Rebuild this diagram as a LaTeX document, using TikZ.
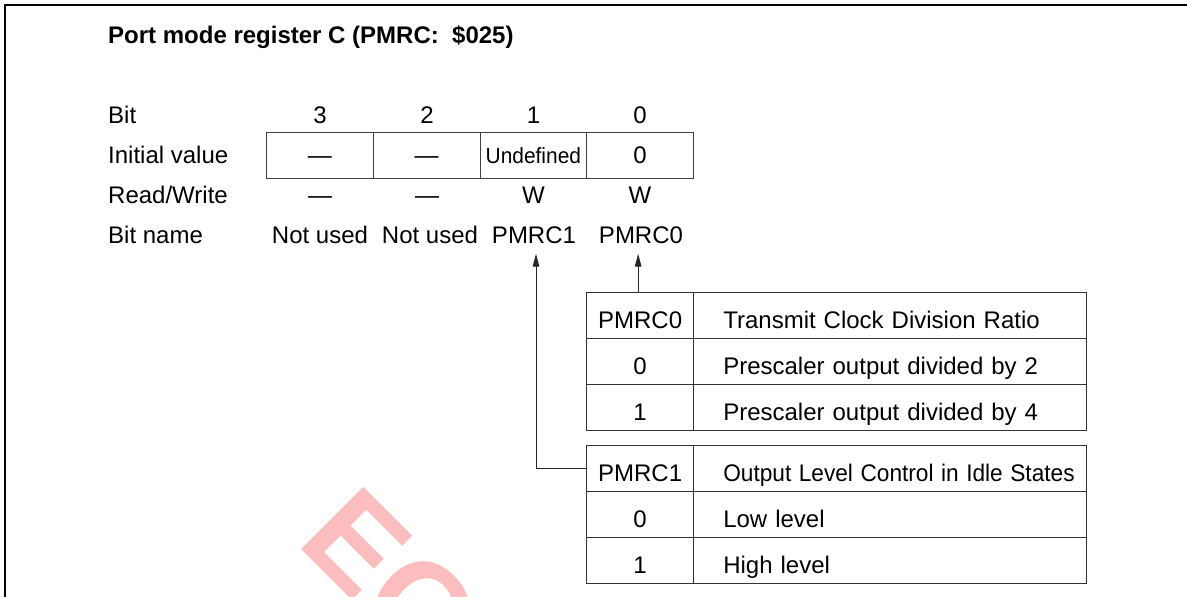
\documentclass[tikz,border=0pt]{standalone}
\usepackage{fontspec}
\setmainfont{Liberation Sans}
\usetikzlibrary{arrows.meta}
\definecolor{wm}{RGB}{251,189,189}
\newcommand\fs{\fontsize{24}{28}\selectfont}
\frenchspacing
\begin{document}
\begin{tikzpicture}[x=1pt,y=-1pt,
  every node/.style={font=\fs},
  lbl/.style={anchor=base, inner sep=0pt},
  rowlbl/.style={anchor=base west, inner sep=0pt},
  regcell/.style={draw=black!75, line width=1pt, inner sep=0pt, minimum width=106.75pt, minimum height=45.4pt, text height=16.6pt, text depth=0pt, anchor=north west},
  keycell/.style={draw=black!80, line width=1pt, inner sep=0pt, minimum width=107.3pt, minimum height=46.1pt, text height=26.4pt, text depth=0pt, anchor=north west},
  desccell/.style={keycell, minimum width=0pt, text width=334pt, inner xsep=29.5pt, align=left},
  conn/.style={draw=black!85, line width=1pt, -{Triangle[length=13pt,width=6.5pt]}},
  framel/.style={line width=1.7pt},
]
\useasboundingbox (0,0) rectangle (1187,597);
% watermark
\begin{scope}
\clip (0,0) rectangle (1187,597);
\node[rotate=-45, anchor=base west, inner sep=0pt, text=wm, font=\fontsize{128}{130}\selectfont\bfseries] (wmk) at (295.6,543.6) {EO};
\end{scope}
% frame
\draw[framel] (5.3,600) -- (5.3,5) -- (1190,5);
% title
\node[rowlbl, font=\fs\bfseries] (title) at (108,43.3) {Port mode register C (PMRC:\ \ \$025)};
% row labels
\node[rowlbl] (lbit) at (108,123.8) {Bit};
\node[rowlbl] (linit) at (108,163.3) {Initial value};
\node[rowlbl] (lrw) at (108,203.4) {Read/Write};
\node[rowlbl] (lname) at (108,243.3) {Bit name};
% bit numbers
\node[lbl] (b3) at (320,123.8) {3};
\node[lbl] (b2) at (427,123.8) {2};
\node[lbl] (b1) at (533.5,123.8) {1};
\node[lbl] (b0) at (640,123.8) {0};
% register cells
\node[regcell] (r3) at (266,132.3) {—};
\node[regcell] (r2) at (372.75,132.3) {—};
\node[regcell] (r1) at (479.5,132.3) {\fontsize{22}{26}\selectfont\scalebox{0.95}[1]{Undefined}};
\node[regcell] (r0) at (586.25,132.3) {0};
% read/write
\node[lbl] (w3) at (320,203.4) {—};
\node[lbl] (w2) at (427,203.4) {—};
\node[lbl] (w1) at (533.5,203.4) {W};
\node[lbl] (w0) at (640,203.4) {W};
% bit names
\node[lbl] (nb3) at (320,243.3) {Not used};
\node[lbl] (nb2) at (430,243.3) {Not used};
\node[lbl] (nb1) at (534,243.3) {PMRC1};
\node[lbl] (nb0) at (641,243.3) {PMRC0};
% table PMRC0
\node[keycell] (k10) at (586,291.7) {PMRC0};
\node[desccell] (d10) at (693.3,291.7) {Transmit Clock Division Ratio};
\node[keycell] (k11) at (586,337.9) {0};
\node[desccell] (d11) at (693.3,337.9) {Prescaler output divided by 2};
\node[keycell] (k12) at (586,384.1) {1};
\node[desccell] (d12) at (693.3,384.1) {Prescaler output divided by 4};
% table PMRC1
\node[keycell] (k20) at (586,444.7) {PMRC1};
\node[desccell] (d20) at (693.3,444.7) {\scalebox{0.944}[1]{Output Level Control in Idle States}};
\node[keycell] (k21) at (586,490.6) {0};
\node[desccell] (d21) at (693.3,490.6) {Low level};
\node[keycell] (k22) at (586,536.5) {1};
\node[desccell] (d22) at (693.3,536.5) {High level};
% connectors
\coordinate (t1) at ([xshift=2pt,yshift=-10pt]nb1.south);
\coordinate (t0) at ([yshift=-10pt]nb0.south);
\draw[conn] (k20.west) -| (t1);
\draw[conn] ([xshift=-2pt]k10.north) -- ([xshift=-2pt]k10.north |- t0);
\end{tikzpicture}
\end{document}
